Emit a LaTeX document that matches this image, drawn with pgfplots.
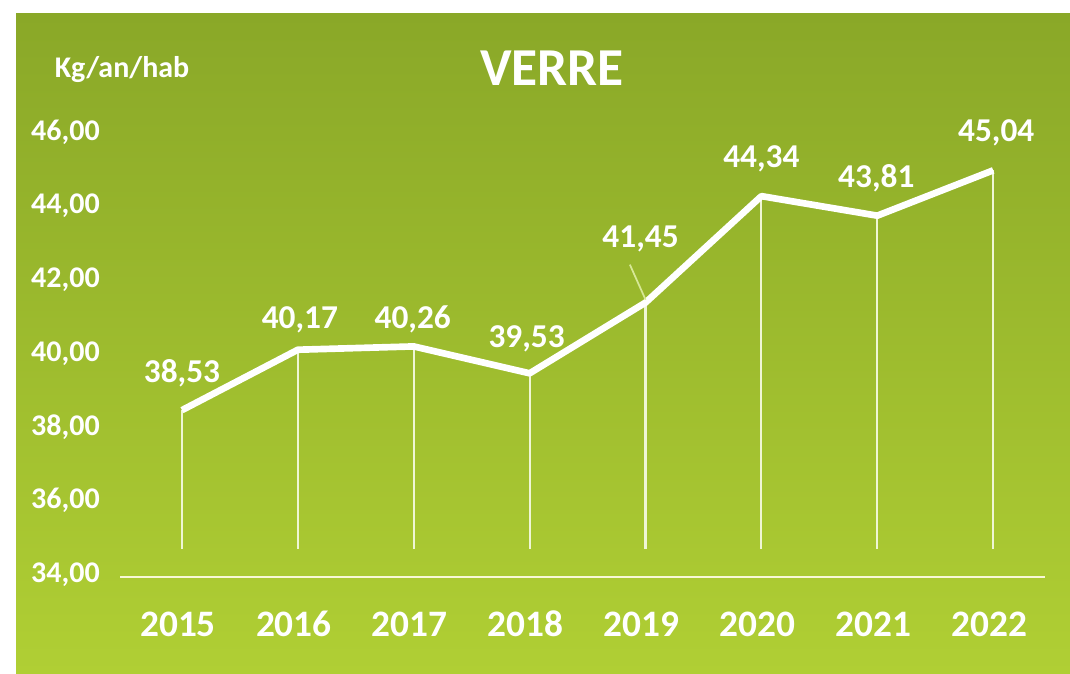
\documentclass[border=0pt]{standalone}
\usepackage{fontspec}
\setmainfont{Carlito}
\usepackage{pgfplots}
\usepackage{pgfplotstable}
\pgfplotsset{compat=1.18}
\definecolor{gtop}{RGB}{138,168,40}
\definecolor{gbot}{RGB}{176,207,52}
\definecolor{basec}{RGB}{248,248,215}
\definecolor{lead}{RGB}{215,232,150}
\pgfplotstableread{
x y dx dy
0 38.53 0 37
1 40.17 2 30
2 40.26 -1 27
3 39.53 -3 34
4 41.45 -5 64
5 44.34 0 37
6 43.81 -1 37
7 45.04 3 38
}\data
\begin{document}
\begin{tikzpicture}[x=0.75pt,y=0.75pt]
\fill[white] (0,0) rectangle (1070,674);
\shade[top color=gtop, bottom color=gbot] (16,0) rectangle (1070,660);
\useasboundingbox (0,0) rectangle (1070,674);
\node[text=white, font=\bfseries\fontsize{40}{44}\selectfont] at (552,606) {VERRE};
\node[text=white, font=\bfseries\fontsize{22.5}{25}\selectfont, anchor=base] at (122,596) {Kg/an/hab};
\begin{axis}[
  at={(90pt,72.75pt)}, anchor=south west,
  scale only axis, width=694pt, height=331.5pt,
  xmin=-0.535, xmax=7.45, ymin=34, ymax=46,
  axis x line=bottom, axis y line*=left,
  x axis line style={color=basec, line width=2.2pt, -},
  y axis line style={draw=none},
  major tick length=0pt,
  xtick=data,
  xticklabels={2015,2016,2017,2018,2019,2020,2021,2022},
  ytick={34,36,...,46},
  clip=false,
  /pgf/number format/.cd, fixed, fixed zerofill, precision=2, use comma, assume math mode=true,
  /pgfplots/.cd,
  xticklabel style={text=white, font=\bfseries\fontsize{28}{30}\selectfont, anchor=base, inner sep=0pt, yshift=-45pt, xshift=-3pt},
  yticklabel style={text=white, font=\bfseries\fontsize{22.5}{24}\selectfont, anchor=east, inner sep=0pt, xshift=-15pt, yshift=2pt},
]
\addplot[draw=none, mark=none, forget plot,
  error bars/.cd, y dir=minus, y explicit, error mark=none,
  error bar style={lead!40!white, line width=1.6pt}]
  table[x=x, y=y, y error expr=\thisrow{y}-34.76] \data;
\addplot[white, line width=5pt, line join=round, mark=none,
  nodes near coords, point meta=y,
  visualization depends on={\thisrow{dx} \as \dx},
  visualization depends on={\thisrow{dy} \as \dy},
  every node near coord/.append style={text=white, anchor=center, inner sep=0pt,
     font=\bfseries\fontsize{25}{27}\selectfont, xshift=\dx*0.75pt, yshift=\dy*0.75pt}]
  table[x=x, y=y] \data;
\draw[lead, line width=1.3pt] (axis cs:3.865,42.48) -- (axis cs:4,41.53);
\end{axis}
\end{tikzpicture}
\end{document}
